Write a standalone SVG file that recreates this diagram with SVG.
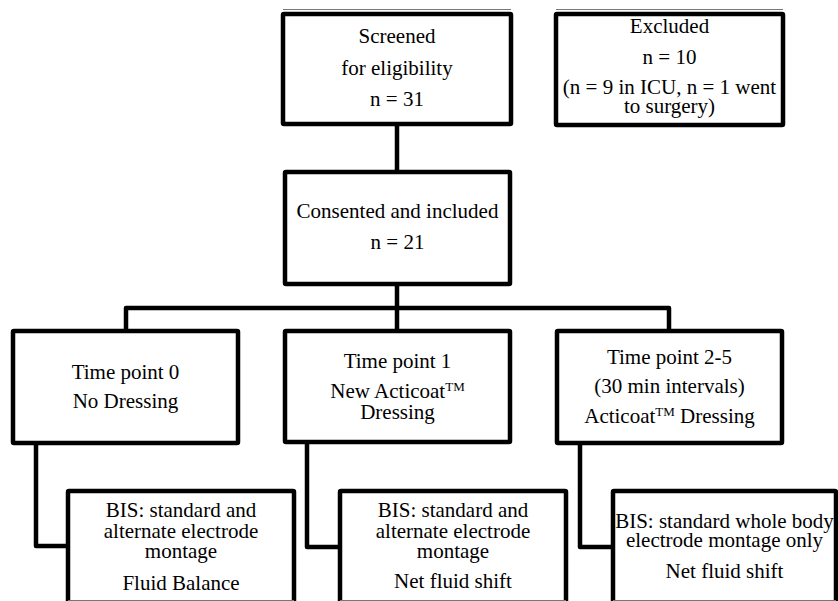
<svg xmlns="http://www.w3.org/2000/svg" width="838" height="601" viewBox="0 0 838 601">
<style>
.box{fill:#fff;stroke:#000;stroke-width:4.5;stroke-linejoin:round}
.edge{fill:none;stroke:#000;stroke-width:4.5;stroke-linejoin:round}
.thin{stroke:#777;stroke-width:1.2}
text{font-family:"Liberation Serif","Times New Roman",serif;font-size:21px;fill:#000;text-anchor:middle}
.sup{font-size:13px}
</style>
<rect width="838" height="601" fill="#fff"/>
<g id="connectors">
<path class="edge" d="M397 124V172"/>
<path class="edge" d="M397 284V331"/>
<path class="edge" d="M126 331V308H669V331"/>
<path class="edge" d="M36 443V546H68"/>
<path class="edge" d="M307 443V547H340"/>
<path class="edge" d="M580 443V547H613"/>
</g>
<g id="screened">
<line class="thin" x1="283" y1="9.5" x2="511" y2="9.5"/>
<rect class="box" x="283" y="14" width="228" height="110" rx="1"/>
<text x="397" y="43">Screened</text>
<text x="397" y="75">for eligibility</text>
<text x="397" y="106">n = 31</text>
</g>
<g id="excluded">
<line class="thin" x1="556" y1="9.5" x2="783" y2="9.5"/>
<rect class="box" x="556" y="14" width="227" height="111" rx="1"/>
<text x="669.5" y="33">Excluded</text>
<text x="669.5" y="64">n = 10</text>
<text x="669.5" y="94">(n = 9 in ICU, n = 1 went<tspan x="669.5" dy="19">to surgery)</tspan></text>
</g>
<g id="consented">
<rect class="box" x="285" y="172" width="225" height="112" rx="1"/>
<text x="397.5" y="218">Consented and included</text>
<text x="397.5" y="249">n = 21</text>
</g>
<g id="tp0">
<rect class="box" x="13" y="331" width="225" height="112" rx="1"/>
<text x="125.5" y="379">Time point 0</text>
<text x="125.5" y="408">No Dressing</text>
</g>
<g id="tp1">
<rect class="box" x="285" y="331" width="225" height="111" rx="1"/>
<text x="397.5" y="368">Time point 1</text>
<text x="397.5" y="398">New Acticoat<tspan class="sup" dy="-7">TM</tspan><tspan x="397.5" dy="28">Dressing</tspan></text>
</g>
<g id="tp2">
<rect class="box" x="557" y="331" width="225" height="112" rx="1"/>
<text x="669.5" y="364">Time point 2-5</text>
<text x="669.5" y="393">(30 min intervals)</text>
<text x="669.5" y="423">Acticoat<tspan class="sup" dy="-7">TM</tspan><tspan dy="7"> Dressing</tspan></text>
</g>
<g id="bis0">
<rect class="box" x="68" y="491" width="226" height="130" rx="1"/>
<line class="thin" x1="68" y1="600.5" x2="294" y2="600.5"/>
<text x="181" y="517">BIS: standard and<tspan x="181" dy="20.5">alternate electrode</tspan><tspan x="181" dy="20.5">montage</tspan></text>
<text x="181" y="590">Fluid Balance</text>
</g>
<g id="bis1">
<rect class="box" x="340" y="491" width="226" height="130" rx="1"/>
<line class="thin" x1="340" y1="600.5" x2="566" y2="600.5"/>
<text x="453" y="517">BIS: standard and<tspan x="453" dy="20.5">alternate electrode</tspan><tspan x="453" dy="20.5">montage</tspan></text>
<text x="453" y="588">Net fluid shift</text>
</g>
<g id="bis2">
<rect class="box" x="613" y="491" width="223" height="130" rx="1"/>
<line class="thin" x1="613" y1="600.5" x2="836" y2="600.5"/>
<text x="724.5" y="528">BIS: standard whole body<tspan x="724.5" dy="19">electrode montage only</tspan></text>
<text x="724.5" y="578">Net fluid shift</text>
</g>
</svg>
